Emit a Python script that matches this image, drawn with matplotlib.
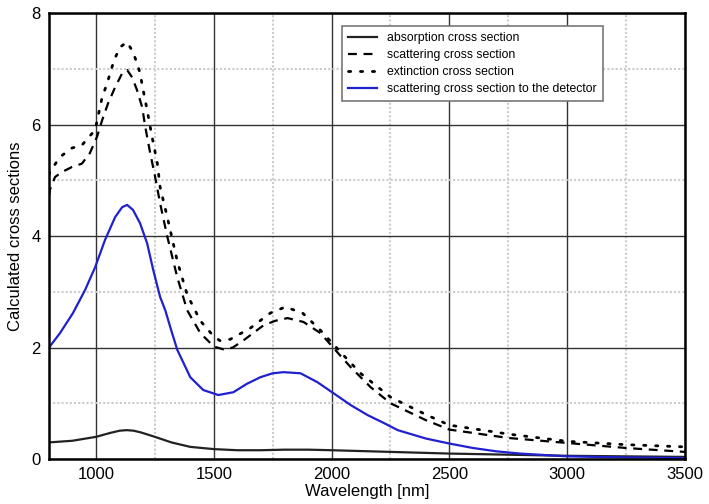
import matplotlib.pyplot as plt
from matplotlib.ticker import MultipleLocator

plt.rcParams['font.family'] = ['Liberation Sans', 'DejaVu Sans']

# absorption cross section
wl_abs = [800, 900, 1000, 1060, 1100, 1130, 1160, 1190, 1250, 1320, 1400, 1500, 1600,
          1700, 1800, 1900, 2000, 2250, 2500, 2750, 3000, 3250, 3500]
absorption = [0.3, 0.33, 0.4, 0.47, 0.51, 0.52, 0.51, 0.48, 0.4, 0.3, 0.22, 0.18, 0.16,
              0.16, 0.17, 0.17, 0.16, 0.13, 0.1, 0.08, 0.06, 0.05, 0.04]

# scattering cross section
wl_sca = [800, 804, 826, 855, 898, 940, 974, 1004, 1026, 1051, 1081, 1111, 1132, 1153,
          1174, 1196, 1209, 1230, 1251, 1272, 1302, 1345, 1387, 1443, 1500, 1540,
          1580, 1626, 1670, 1711, 1760, 1813, 1881, 1953, 2009, 2081, 2166, 2251,
          2400, 2500, 2750, 3000, 3250, 3500]
scattering = [4.72, 4.83, 5.06, 5.15, 5.24, 5.3, 5.49, 5.78, 6.08, 6.38, 6.67, 6.92,
              6.98, 6.85, 6.62, 6.31, 5.96, 5.49, 5.06, 4.59, 4.0, 3.26, 2.67, 2.26,
              2.02, 1.97, 2.0, 2.13, 2.27, 2.4, 2.48, 2.53, 2.46, 2.26, 1.99, 1.65,
              1.29, 1.0, 0.7, 0.53, 0.38, 0.29, 0.2, 0.13]

# extinction cross section
wl_ext = [800, 804, 847, 898, 940, 966, 996, 1026, 1047, 1077, 1102, 1132, 1157, 1174,
          1187, 1200, 1217, 1238, 1260, 1272, 1302, 1345, 1387, 1443, 1500, 1528,
          1570, 1655, 1740, 1804, 1877, 1953, 2038, 2123, 2251, 2400, 2500, 2750,
          3000, 3250, 3500]
extinction = [5.1, 5.15, 5.42, 5.58, 5.63, 5.76, 5.9, 6.49, 6.74, 7.16, 7.39, 7.48,
              7.3, 7.1, 6.92, 6.62, 6.26, 5.78, 5.31, 4.88, 4.35, 3.55, 2.95, 2.48,
              2.2, 2.12, 2.15, 2.35, 2.62, 2.73, 2.62, 2.31, 1.92, 1.54, 1.11, 0.8,
              0.61, 0.45, 0.32, 0.26, 0.22]

# scattering cross section to the detector
wl_det = [800, 847, 902, 953, 996, 1038, 1081, 1111, 1132, 1157, 1187, 1217, 1243,
          1272, 1294, 1320, 1345, 1400, 1455, 1519, 1583, 1640, 1698, 1750, 1796,
          1868, 1940, 2009, 2081, 2153, 2221, 2281, 2400, 2500, 2600, 2700, 2800,
          3000, 3250, 3500]
detector = [2.0, 2.26, 2.62, 3.03, 3.44, 3.93, 4.34, 4.52, 4.56, 4.47, 4.23, 3.87,
            3.39, 2.91, 2.67, 2.3, 1.96, 1.47, 1.24, 1.15, 1.2, 1.35, 1.47, 1.54,
            1.56, 1.54, 1.38, 1.18, 0.97, 0.79, 0.65, 0.52, 0.37, 0.28, 0.2, 0.14,
            0.1, 0.05, 0.03, 0.02]

fig = plt.figure(figsize=(7.09, 5.04), dpi=100)
ax = fig.add_axes([0.069, 0.089, 0.897, 0.885])

ax.plot(wl_abs, absorption, color='#222222', lw=1.6, label='absorption cross section')
ax.plot(wl_sca, scattering, color='black', lw=1.6, linestyle=(0, (4, 3)),
        label='scattering cross section')
ax.plot(wl_ext, extinction, color='black', lw=2.0, linestyle=(0, (0.8, 3.5)),
        dash_capstyle='round', label='extinction cross section')
ax.plot(wl_det, detector, color='#2020d0', lw=1.6,
        label='scattering cross section to the detector')

ax.set_xlim(800, 3500)
ax.set_ylim(0, 8)
ax.xaxis.set_major_locator(MultipleLocator(500))
ax.xaxis.set_minor_locator(MultipleLocator(250))
ax.yaxis.set_major_locator(MultipleLocator(2))
ax.yaxis.set_minor_locator(MultipleLocator(1))
ax.grid(True, which='major', color='#333333', lw=1.0)
ax.grid(True, which='minor', color='#cccccc', lw=1.5, linestyle=(0, (1, 1)))
ax.set_axisbelow(True)
ax.tick_params(which='both', length=0, labelsize=12, pad=6)
for s in ax.spines.values():
    s.set_linewidth(1.8)

ax.set_xlabel('Wavelength [nm]', fontsize=12, labelpad=1)
ax.set_ylabel('Calculated cross sections', fontsize=12, labelpad=6)

leg = ax.legend(loc='upper right', bbox_to_anchor=(0.871, 0.971), fontsize=8.8,
                handlelength=2.4, labelspacing=0.4, fancybox=False,
                edgecolor='#777777', framealpha=1, borderpad=0.5,
                borderaxespad=0)
leg.get_frame().set_linewidth(1.2)

fig.savefig('out.png', dpi=100)
